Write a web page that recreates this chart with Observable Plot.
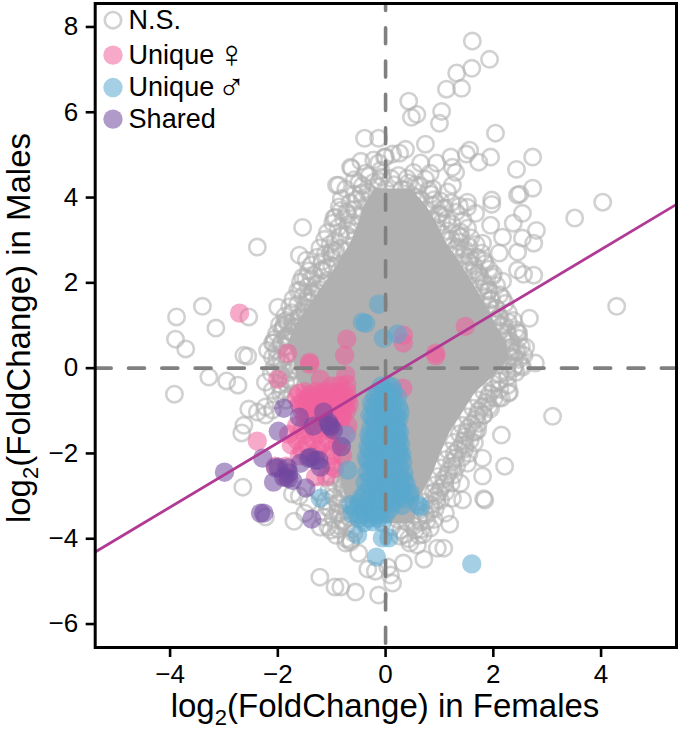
<!DOCTYPE html>
<html><head><meta charset="utf-8">
<script src="https://cdn.jsdelivr.net/npm/d3@7"></script>
<script src="https://cdn.jsdelivr.net/npm/@observablehq/plot@0.6"></script>
<style>html,body{margin:0;padding:0;background:#fff}svg{display:block}</style>
</head><body><div id="chart"></div>
<script>
// Readable open rings (not significant), log2FC in females, log2FC in males
const nsOutliers = [[-0.91,4.29],[-1.54,3.30],[-2.38,2.84],[-1.60,2.65],[-1.47,2.53],[-1.54,2.13],[-1.48,2.11],[-3.40,1.45],[-2.00,1.43],[-3.88,1.20],[-2.54,1.20],[-3.15,0.94],[-3.90,0.68],[-3.71,0.45],[-2.63,0.30],[-2.56,0.28],[-0.96,3.52],[-0.83,3.70],
[-3.28,-0.21],[-2.95,-0.30],[-2.74,-0.40],[-3.92,-0.61],[-2.54,-0.96],[-2.38,-1.03],[-2.63,-1.34],[-2.67,-1.52],[-2.23,-1.10],[-2.65,-2.79],[-2.23,-3.49],[-1.70,-3.59],[-1.73,-2.95],[-1.22,-4.90],[-0.94,-5.13],
[1.61,7.67],[1.93,7.24],[1.60,7.03],[1.32,6.92],[1.13,6.54],[1.41,6.56],[0.43,6.26],[0.58,5.95],[0.48,5.88],[1.04,6.02],[1.00,5.74],[2.04,5.51],[-0.39,5.39],[-0.13,5.39],[0.74,5.25],[2.73,4.95],[2.43,4.66],[1.95,4.95],[1.73,4.83],[1.56,5.11],[1.50,5.02],[1.21,4.95],[0.37,5.13],[0.26,5.04],[0.13,5.02],[-0.02,4.95],[-0.46,4.85],[-0.63,4.69],[-0.37,4.57],[-0.13,4.81],[-0.07,4.48],[-0.50,4.34],[-0.87,4.29],[0.52,4.59],[0.65,4.81],[0.95,4.81],[0.83,4.57],[1.24,4.71],[1.30,4.59],[1.24,4.29],[1.15,4.13],[0.80,4.17],[2.49,4.08],[2.45,4.06],[2.73,4.22],[4.03,3.89],[3.51,3.52],[1.97,3.94],[1.97,3.84],[1.52,3.89],[1.37,3.80],[1.67,3.63],[1.52,3.77],[2.54,3.63],[2.37,3.40],[2.80,3.23],[2.75,2.93],[2.54,3.05],[1.95,3.35],[2.17,3.07],[1.39,3.19],[1.39,3.07],[1.80,2.93],[2.45,2.72],[2.11,2.70],[2.45,2.30],[2.56,2.20],[2.75,2.18],[2.17,2.04],[2.17,1.64],[4.29,1.45],[2.67,1.17],[2.28,1.08],[2.45,0.84],[2.60,0.49],[2.45,0.42],[2.78,0.12],
[3.10,-1.13],[2.15,-1.57],[2.21,-2.30],[1.80,-2.11],[1.80,-2.53],[1.84,-3.09],[1.82,-3.06],[1.52,-2.23],[1.43,-3.09],[1.39,-2.70],[1.24,-3.05],[1.11,-3.40],[1.19,-3.66],[1.08,-4.22],[0.96,-4.22],[0.71,-4.48],[0.33,-4.57],[0.13,-5.04],[-0.13,-5.32],[-0.56,-5.25],[-0.33,-4.71],[-0.19,-4.76],[0.04,-4.66],[-0.50,-4.34],[-0.65,-4.08],[-0.83,-5.13],[2.28,-0.59],[2.15,-0.70],[1.82,-1.10],[1.63,-1.50],[1.48,-1.80],[0.89,-2.91],[0.83,-3.75],[0.59,-4.15],[0.09,-4.85],
[2.47,0.82],[2.54,0.02],[2.30,-0.56],[2.10,-0.70],[1.71,-1.45],
[-1.02,-2.56],[-0.83,-2.70],[-0.70,-2.86],[-0.96,-3.02],[-1.08,-3.26],[-0.89,-3.40],[-1.21,-3.73],[-1.02,-3.80],[-0.78,-3.56],[-1.43,-3.16],[-1.15,-3.49],[-0.65,-4.03],[-0.74,-4.10],[-0.59,-3.87],[-0.89,-3.16],
[-1.82,1.05],[-1.90,0.95],[-1.67,0.96],[-1.35,1.36],[-1.45,1.66],[-1.24,1.76],[-2.10,0.59],[-2.19,0.42],[-2.10,0.26],[-1.95,0.19],[-2.23,-0.33],[-2.10,-0.52],[-2.04,-0.75],[-2.23,-0.91],[-2.10,-0.98],[-1.76,-0.28],[-1.73,-0.05],[-1.89,-0.05],
[-0.65,4.71],[-0.33,3.82],[-0.93,3.54],[-0.61,3.42],[-0.56,3.19],[-0.69,3.23],[-0.59,3.00],[-0.98,2.77],[-0.83,2.81],[-0.09,4.64],[-0.22,4.88],[0,4.95],[-0.33,4.13],[-0.43,3.94],[-0.22,4.36],
[-1.17,2.30],[-1.43,1.41],[-1.35,1.76],[-1.58,1.83],[-1.89,1.01],[-1.73,1.08],[-2.08,0.59],[-1.02,2.70],[-0.93,2.70],[-1.08,2.06]];
// Rings estimated along the edge of the dense cloud
const nsEdge = [[-0.55,3.95],[-0.70,3.60],[-0.45,3.55],[-0.25,4.05],[0,4.20],[0.15,4.30],[0.30,4.20],[0.50,4.05],[0.65,3.95],[0.75,3.70],[0.85,3.50],[0.95,3.30],[1.05,3.15],[1.15,3.00],[1.00,3.60],[1.10,3.75],[0.90,3.95],[0.55,4.30],[0.40,4.45],[0.10,4.45],[-0.15,4.25],[-0.45,4.10],
[1.30,2.80],[1.45,2.65],[1.55,2.50],[1.65,2.30],[1.75,2.15],[1.85,1.95],[1.90,1.80],[1.95,1.60],[2.05,1.40],[2.10,1.20],[2.15,1.00],[2.25,0.85],[2.30,0.65],[2.35,0.40],[2.40,0.25],[2.40,0.05],[2.25,-0.10],[2.10,-0.30],[2.00,-0.50],[1.90,-0.70],[1.80,-0.90],[1.70,-1.10],[1.60,-1.30],[1.50,-1.50],[1.45,-1.70],[1.35,-1.90],[1.30,-2.10],[1.25,-2.30],[1.15,-2.50],[1.10,-2.70],[1.00,-2.90],[0.95,-3.10],[0.85,-3.30],[0.75,-3.45],[0.65,-3.60],[0.90,-3.55],[0.55,-3.80],[0.35,-3.90],[0.70,-3.90],[0.45,-4.10],[1.55,2.85],[1.70,2.60],[1.85,2.45],[2.00,2.20],[1.55,-2.00],[1.65,-1.75],[1.95,-0.95],
[-1.00,2.40],[-1.15,2.00],[-1.25,1.85],[-1.40,1.55],[-1.50,1.30],[-1.60,1.20],[-1.75,0.85],[-1.85,0.70],[-1.95,0.55],[-1.85,0.30],[-1.75,0.15],[-1.95,-0.15],[-1.85,-0.35],[-1.95,-0.60],[-1.85,-0.75],[-0.70,2.50],[-0.85,2.30],[-0.60,2.15],
[-1.60,-3.00],[-1.50,-3.40],[-0.95,-2.20],[-0.80,-2.30],[-0.75,-2.55],[-0.60,-2.70],[-0.70,-3.20],[-0.55,-3.45],[-1.25,-2.90],[-1.05,-2.85],[-0.85,-3.70]];
// Dense ring band around the cloud, estimated by eye
const nsBand = [[-0.58,4.42],[-0.31,4.5],[-0.12,4.38],[0.24,4.52],[0.43,4.35],[0.74,4.43],[-0.74,4.2],[-0.43,4.28],[0.38,4.18],[0.62,4.28],[0.88,4.2],[-0.82,3.98],[-0.58,4.08],[0.58,4.0],[0.84,4.08],[1.02,3.92],[-0.86,3.78],[-0.66,3.88],[0.88,3.82],[1.06,3.74],[1.22,3.88],[-0.72,3.66],[-0.58,3.72],[0.98,3.62],[1.14,3.5],[1.31,3.66],[-0.98,3.4],[-0.78,3.5],[-0.62,3.36],[1.04,3.42],[1.23,3.38],[1.44,3.46],[-1.08,3.18],[-0.88,3.3],[-0.72,3.12],[1.16,3.22],[1.34,3.14],[1.52,3.28],[-1.13,3.02],[-0.94,2.98],[-0.84,3.1],[1.22,3.02],[1.37,2.96],[1.58,3.06],[-1.22,2.82],[-1.03,2.9],[-0.92,2.76],[1.33,2.84],[1.47,2.78],[1.68,2.9],[-1.27,2.6],[-1.12,2.68],[-1.0,2.58],[1.38,2.68],[1.57,2.6],[1.78,2.7],[-1.38,2.42],[-1.18,2.5],[-1.08,2.36],[1.47,2.44],[1.64,2.4],[1.82,2.52],[-1.43,2.28],[-1.32,2.18],[-1.19,2.3],[1.54,2.28],[1.73,2.22],[1.92,2.32],[-1.58,2.02],[-1.38,2.1],[-1.27,1.98],[1.67,2.08],[1.82,2.02],[1.98,2.14],[-1.63,1.82],[-1.44,1.92],[-1.37,1.76],[1.74,1.88],[1.92,1.82],[2.06,1.94],[-1.72,1.62],[-1.53,1.7],[-1.46,1.58],[1.82,1.68],[1.97,1.62],[2.12,1.72],[-1.78,1.44],[-1.63,1.5],[-1.52,1.4],[1.92,1.48],[2.06,1.4],[2.22,1.52],[-1.87,1.22],[-1.74,1.3],[-1.62,1.18],[1.96,1.28],[2.12,1.2],[2.28,1.3],[-1.97,1.02],[-1.84,1.12],[-1.72,0.98],[2.06,1.08],[2.2,1.0],[2.37,1.12],[-2.02,0.82],[-1.92,0.9],[-1.82,0.76],[2.12,0.88],[2.27,0.8],[2.42,0.9],[-2.06,0.68],[-1.93,0.6],[-1.86,0.72],[2.22,0.68],[2.34,0.6],[2.47,0.7],[-2.02,0.42],[-1.88,0.5],[2.32,0.48],[2.42,0.38],[2.52,0.5],[-2.02,0.22],[-1.83,0.3],[2.31,0.28],[2.47,0.2],[2.57,0.3],[-2.07,0.02],[-1.92,0.1],[-1.73,-0.02],[2.27,0.08],[2.38,0.0],[2.52,0.06],[-2.12,-0.12],[-1.93,-0.2],[-1.78,-0.1],[2.12,-0.14],[2.27,-0.2],[2.42,-0.1],[-1.97,-0.38],[-1.78,-0.3],[1.97,-0.36],[2.12,-0.3],[2.27,-0.4],[-1.92,-0.52],[-1.73,-0.6],[1.82,-0.54],[1.93,-0.6],[2.12,-0.5],[1.72,-0.74],[1.87,-0.8],[2.02,-0.7],[1.62,-0.94],[1.73,-1.0],[1.92,-0.9],[1.52,-1.14],[1.67,-1.2],[1.82,-1.1],[1.42,-1.34],[1.53,-1.4],[1.72,-1.3],[1.37,-1.54],[1.48,-1.6],[1.67,-1.5],[1.27,-1.74],[1.42,-1.8],[1.57,-1.7],[1.17,-1.94],[1.28,-2.0],[1.47,-1.9],[1.12,-2.14],[1.23,-2.2],[1.42,-2.1],[1.02,-2.34],[1.17,-2.4],[1.32,-2.3],[-1.02,-2.52],[-0.83,-2.6],[-0.72,-2.5],[-0.58,-2.58],[0.97,-2.54],[1.08,-2.6],[1.27,-2.5],[-0.93,-2.72],[-0.78,-2.8],[-0.67,-2.7],[0.92,-2.74],[1.03,-2.8],[1.22,-2.7],[-0.82,-2.92],[-0.58,-3.0],[0.82,-2.94],[0.93,-3.0],[1.12,-2.9],[-1.12,-3.12],[-0.88,-3.2],[-0.77,-3.1],[-0.58,-3.18],[0.72,-3.14],[0.83,-3.2],[1.02,-3.1],[-1.02,-3.32],[-0.83,-3.4],[-0.72,-3.3],[0.62,-3.34],[0.73,-3.4],[0.92,-3.3],[-0.97,-3.52],[-0.78,-3.6],[-0.67,-3.5],[0.22,-3.54],[0.38,-3.6],[0.62,-3.5],[0.77,-3.58],[-1.07,-3.72],[-0.88,-3.78],[-0.73,-3.7],[-0.62,-3.78],[0.12,-3.72],[0.28,-3.8],[0.52,-3.7],[0.67,-3.78],[-0.92,-3.92],[-0.73,-4.0],[0.27,-3.94],[0.43,-4.0],[0.62,-3.92]];
// Outline of the saturated part of the cloud, where single rings cannot be read
const coreY     = [4.2,3.8,3.4,3.0,2.5,2.0,1.5,1.0,0.6,0.2,-0.2,-0.6,-1,-1.5,-2,-2.5,-3,-3.5,-3.65];
const coreLeft  = [-0.2,-0.4,-0.5,-0.62,-0.85,-1.12,-1.4,-1.68,-1.8,-1.7,-1.65,-1.5,-1.2,-1.0,-0.9,-0.85,-0.75,-0.4,0.1];
const coreRight = [0.48,0.76,0.95,1.1,1.36,1.62,1.85,2.05,2.25,2.3,2.0,1.65,1.45,1.2,1.02,0.87,0.65,0.55,0.5];
const uniqueFemale = [[-2.71,1.29],[-1.82,0.35],[-1.41,0.14],[-0.72,0.68],[-0.76,0.30],[-1.41,0.09],[-2.00,-0.26],[-0.74,-0.16],[-1.21,-0.26],[-1.61,-0.59],[1.48,0.98],[0.93,0.35],[0.93,0.29],[0.33,0.77],[0.33,0.59],[0.32,-0.47],[-2.38,-1.71],
[-1.50,-0.55],[-1.30,-0.55],[-1.15,-0.55],[-1.00,-0.55],[-0.85,-0.55],[-0.72,-0.55],[-1.65,-0.70],[-1.45,-0.70],[-1.30,-0.70],[-1.15,-0.70],[-1.00,-0.70],[-0.85,-0.70],[-0.70,-0.70],[-1.60,-0.85],[-1.45,-0.85],[-1.30,-0.85],[-1.15,-0.85],[-1.00,-0.85],[-0.85,-0.85],[-0.68,-0.85],[-1.55,-1.00],[-1.35,-1.00],[-1.20,-1.00],[-1.05,-1.00],[-0.90,-1.00],[-0.72,-1.00],[-1.50,-1.15],[-1.30,-1.15],[-1.15,-1.15],[-1.00,-1.15],[-0.80,-1.15],[-1.65,-1.35],[-1.40,-1.35],[-1.15,-1.35],[-0.95,-1.35],[-0.70,-1.35],[-1.80,-1.55],[-1.50,-1.55],[-1.25,-1.55],[-0.95,-1.55],[-0.72,-1.55],[-1.75,-1.80],[-1.45,-1.80],[-1.20,-1.80],[-0.90,-1.80],[-1.60,-2.05],[-1.30,-2.05],[-1.00,-2.05],[-0.80,-2.05],[-2.05,-2.30],[-1.85,-2.30],[-1.00,-2.30],[-0.95,-2.35],[-1.85,-2.55],[-1.30,-2.55],[-1.10,-2.55],
[-1.40,-0.62],[-1.22,-0.62],[-1.07,-0.62],[-0.92,-0.62],[-0.78,-0.62],[-1.52,-0.78],[-1.37,-0.78],[-1.22,-0.78],[-1.07,-0.78],[-0.92,-0.78],[-0.76,-0.78],[-1.52,-0.92],[-1.37,-0.92],[-1.22,-0.92],[-1.07,-0.92],[-0.92,-0.92],[-0.76,-0.92],[-1.42,-1.08],[-1.27,-1.08],[-1.12,-1.08],[-0.97,-1.08],[-0.82,-1.08],[-0.72,-0.38],[-0.85,-0.40],[-1.00,-0.42],[-1.40,-1.25],[-1.05,-1.25],[-0.85,-1.25],[-1.55,-1.45],[-1.30,-1.45],[-1.05,-1.45],[-0.82,-1.45],[-1.65,-1.68],[-1.35,-1.68],[-1.08,-1.68],[-0.82,-1.68],[-1.55,-1.92],[-1.25,-1.92],[-1.00,-1.92]];
const uniqueMale = [[-0.13,1.50],[-0.37,1.05],[-0.43,1.08],[-0.04,0.70],[0.22,0.80],[1.60,-4.59],[-0.17,-4.43],[0.06,-3.98],[-0.06,-3.98],[-0.52,-3.91],[0.65,-3.26],[0.46,-2.93],[-1.21,-3.05],[-0.70,-2.39],[-0.74,-1.57],
[-0.08,-0.42],[0.04,-0.40],[0.12,-0.44],[-0.20,-0.66],[-0.05,-0.62],[0.08,-0.64],[0.22,-0.68],[-0.22,-0.90],[-0.08,-0.88],[0.06,-0.92],[0.24,-0.90],[-0.24,-1.15],[-0.10,-1.13],[0.05,-1.16],[0.20,-1.14],[0.25,-1.18],[-0.28,-1.42],[-0.12,-1.40],[0.03,-1.44],[0.22,-1.42],[-0.28,-1.66],[-0.14,-1.68],[0.02,-1.65],[0.14,-1.69],[0.24,-1.66],[-0.30,-1.92],[-0.14,-1.90],[0.02,-1.94],[0.24,-1.92],[-0.33,-2.18],[-0.16,-2.16],[0.00,-2.20],[0.16,-2.17],[0.32,-2.20],[-0.34,-2.44],[-0.18,-2.42],[0.00,-2.46],[0.16,-2.44],[0.34,-2.46],[-0.38,-2.68],[-0.20,-2.70],[0.00,-2.66],[0.18,-2.70],[0.38,-2.72],[-0.38,-2.92],[-0.20,-2.90],[-0.04,-2.94],[0.14,-2.92],[0.30,-2.90],[0.42,-2.96],[-0.65,-3.20],[-0.50,-3.16],[-0.34,-3.22],[-0.18,-3.14],[-0.02,-3.20],[0.14,-3.16],[0.30,-3.22],[0.60,-3.20],[-0.62,-3.42],[-0.46,-3.44],[-0.30,-3.40],[-0.16,-3.44],[0.00,-3.42],[-0.40,-3.62],[-0.24,-3.60],[-0.06,-3.62],
[-0.02,-0.52],[-0.14,-0.55],[0.14,-0.55],[-0.14,-0.78],[0.00,-0.76],[0.14,-0.78],[-0.18,-1.02],[-0.02,-1.02],[0.14,-1.02],[-0.20,-1.28],[-0.04,-1.28],[0.12,-1.28],[0.20,-1.30],[-0.20,-1.54],[-0.05,-1.54],[0.10,-1.54],[0.22,-1.56],[-0.22,-1.80],[-0.06,-1.80],[0.10,-1.80],[0.22,-1.80],[-0.24,-2.05],[-0.07,-2.05],[0.10,-2.05],[0.26,-2.05],[-0.26,-2.30],[-0.08,-2.30],[0.08,-2.30],[0.26,-2.32],[-0.28,-2.56],[-0.09,-2.56],[0.08,-2.56],[0.28,-2.58],[-0.30,-2.80],[-0.10,-2.80],[0.08,-2.80],[0.28,-2.82],[-0.45,-3.05],[-0.28,-3.04],[-0.10,-3.05],[0.06,-3.05],[0.22,-3.05],[0.36,-3.06],[-0.56,-3.30],[-0.40,-3.30],[-0.24,-3.30],[-0.08,-3.30],[0.08,-3.30],[-0.50,-3.52],[-0.32,-3.52],[-0.14,-3.52],
[-0.26,-0.82],[0.27,-1.02],[-0.29,-1.1],[0.26,-1.5],[-0.31,-1.58],[0.28,-1.78],[-0.33,-1.84],[0.3,-2.02],[-0.36,-2.1],[0.34,-2.62]];
const shared = [[-2.99,-2.44],[-2.28,-2.11],[-2.32,-3.40],[-2.26,-3.40],[-1.37,-3.54],[-1.89,-0.94],[-1.60,-1.15],[-1.99,-1.48],[-1.15,-1.03],[-1.34,-1.36],[-1.04,-1.34],[-0.97,-1.45],[-0.82,-1.84],[-2.08,-2.67],[-1.48,-2.81],[-2.04,-2.34],[-1.82,-2.34],[-1.89,-2.56],[-1.73,-2.63],[-1.58,-2.23],[-1.43,-2.11],[-1.30,-2.16],[-1.21,-2.32],[-1.39,-2.09],[-1.24,-2.16],[-1.80,-2.46],[-1.80,-2.58],[-1.99,-2.32],[-1.02,-1.38],[-1.06,-1.27]];
const trendX = [-5.39,5.40];
const trendY = [-4.31,3.84];
const xTicks = [-4,-2,0,2,4];
const yTicks = [-6,-4,-2,0,2,4,6,8];
const legendLabels = ["N.S.","Unique","Unique","Shared"];
const legendSymbols = ["","♀","♂",""];
const legendY = [8.16,7.34,6.58,5.84];
const xDomain = [-5.39,5.40], yDomain = [-6.55,8.55];
const grey="#b0b0b0", pink="#f0629c", blue="#5aa8ce", purple="#6f479f";
const fmt = d => String(d).replace("-","−");
const dotOpts = (fill)=>({x:d=>d[0],y:d=>d[1],r:9.7,fill,fillOpacity:0.55,stroke:"none"});
const ringOpts = {x:d=>d[0],y:d=>d[1],r:8.2,fill:"none",stroke:grey,strokeWidth:2.6,strokeOpacity:0.58};
const dash = {stroke:"#808080",strokeWidth:3.6,strokeDasharray:"16 17.3"};
const core = coreY.map((y,i)=>({y,a:coreLeft[i],b:coreRight[i]}));
const svg = Plot.plot({
  width:680,height:730,marginLeft:94.7,marginRight:4,marginTop:3,marginBottom:83,
  style:{fontFamily:"'Liberation Sans',Arial,sans-serif",color:"#000",background:"#fff"},
  x:{domain:xDomain},y:{domain:yDomain},
  marks:[
    Plot.dot(nsOutliers,ringOpts),
    Plot.dot(nsEdge,ringOpts),
    Plot.dot(nsBand,ringOpts),
    Plot.areaX(core,{x1:"a",x2:"b",y:"y",fill:grey}),
    Plot.dot(uniqueFemale,dotOpts(pink)),
    Plot.dot(uniqueMale,dotOpts(blue)),
    Plot.dot(shared,dotOpts(purple)),
    Plot.line([[xDomain[0],0],[xDomain[1],0]],{x:d=>d[0],y:d=>d[1],...dash}),
    Plot.line([[0,yDomain[1]],[0,yDomain[0]]],{x:d=>d[0],y:d=>d[1],...dash,strokeDashoffset:9}),
    Plot.line(trendX.map((x,i)=>[x,trendY[i]]),{x:d=>d[0],y:d=>d[1],stroke:"#b03a94",strokeWidth:2.8}),
    Plot.dot([[-5.06,legendY[0]]],ringOpts),
    Plot.dot([[-5.06,legendY[1]]],dotOpts(pink)),
    Plot.dot([[-5.06,legendY[2]]],dotOpts(blue)),
    Plot.dot([[-5.06,legendY[3]]],dotOpts(purple)),
    Plot.text(legendLabels,{x:()=>-4.77,y:(d,i)=>legendY[i],text:d=>d,textAnchor:"start",fontSize:27,fill:"#000"}),
    Plot.text(legendSymbols,{x:()=>-2.86,y:(d,i)=>legendY[i],text:d=>d,textAnchor:"middle",fontSize:38,fontFamily:"'DejaVu Sans',sans-serif",fontWeight:200,fill:"#000"}),
    Plot.frame({stroke:"#000",strokeWidth:3}),
    Plot.axisX(xTicks,{anchor:"bottom",tickSize:10,tickPadding:7,fontSize:26,strokeWidth:2.6,stroke:"#000",tickFormat:fmt,label:null}),
    Plot.axisY(yTicks,{anchor:"left",tickSize:9,tickPadding:8,fontSize:26,strokeWidth:2.6,stroke:"#000",tickFormat:fmt,label:null})
  ]
});
const s = d3.select(svg);
function label(g,tail){
  const t=g.append("text").attr("font-size",33).attr("fill","#000").attr("text-anchor","middle")
    .style("font-family","'Liberation Sans',Arial,sans-serif");
  t.append("tspan").text("log");
  t.append("tspan").text("2").attr("font-size",22).attr("dy",8);
  t.append("tspan").text("(FoldChange) in "+tail).attr("dy",-8);
}
label(s.append("g").attr("transform","translate(385,717)"),"Females");
label(s.append("g").attr("transform","translate(30,328) rotate(-90)"),"Males");
document.getElementById("chart").appendChild(svg);
</script></body></html>
